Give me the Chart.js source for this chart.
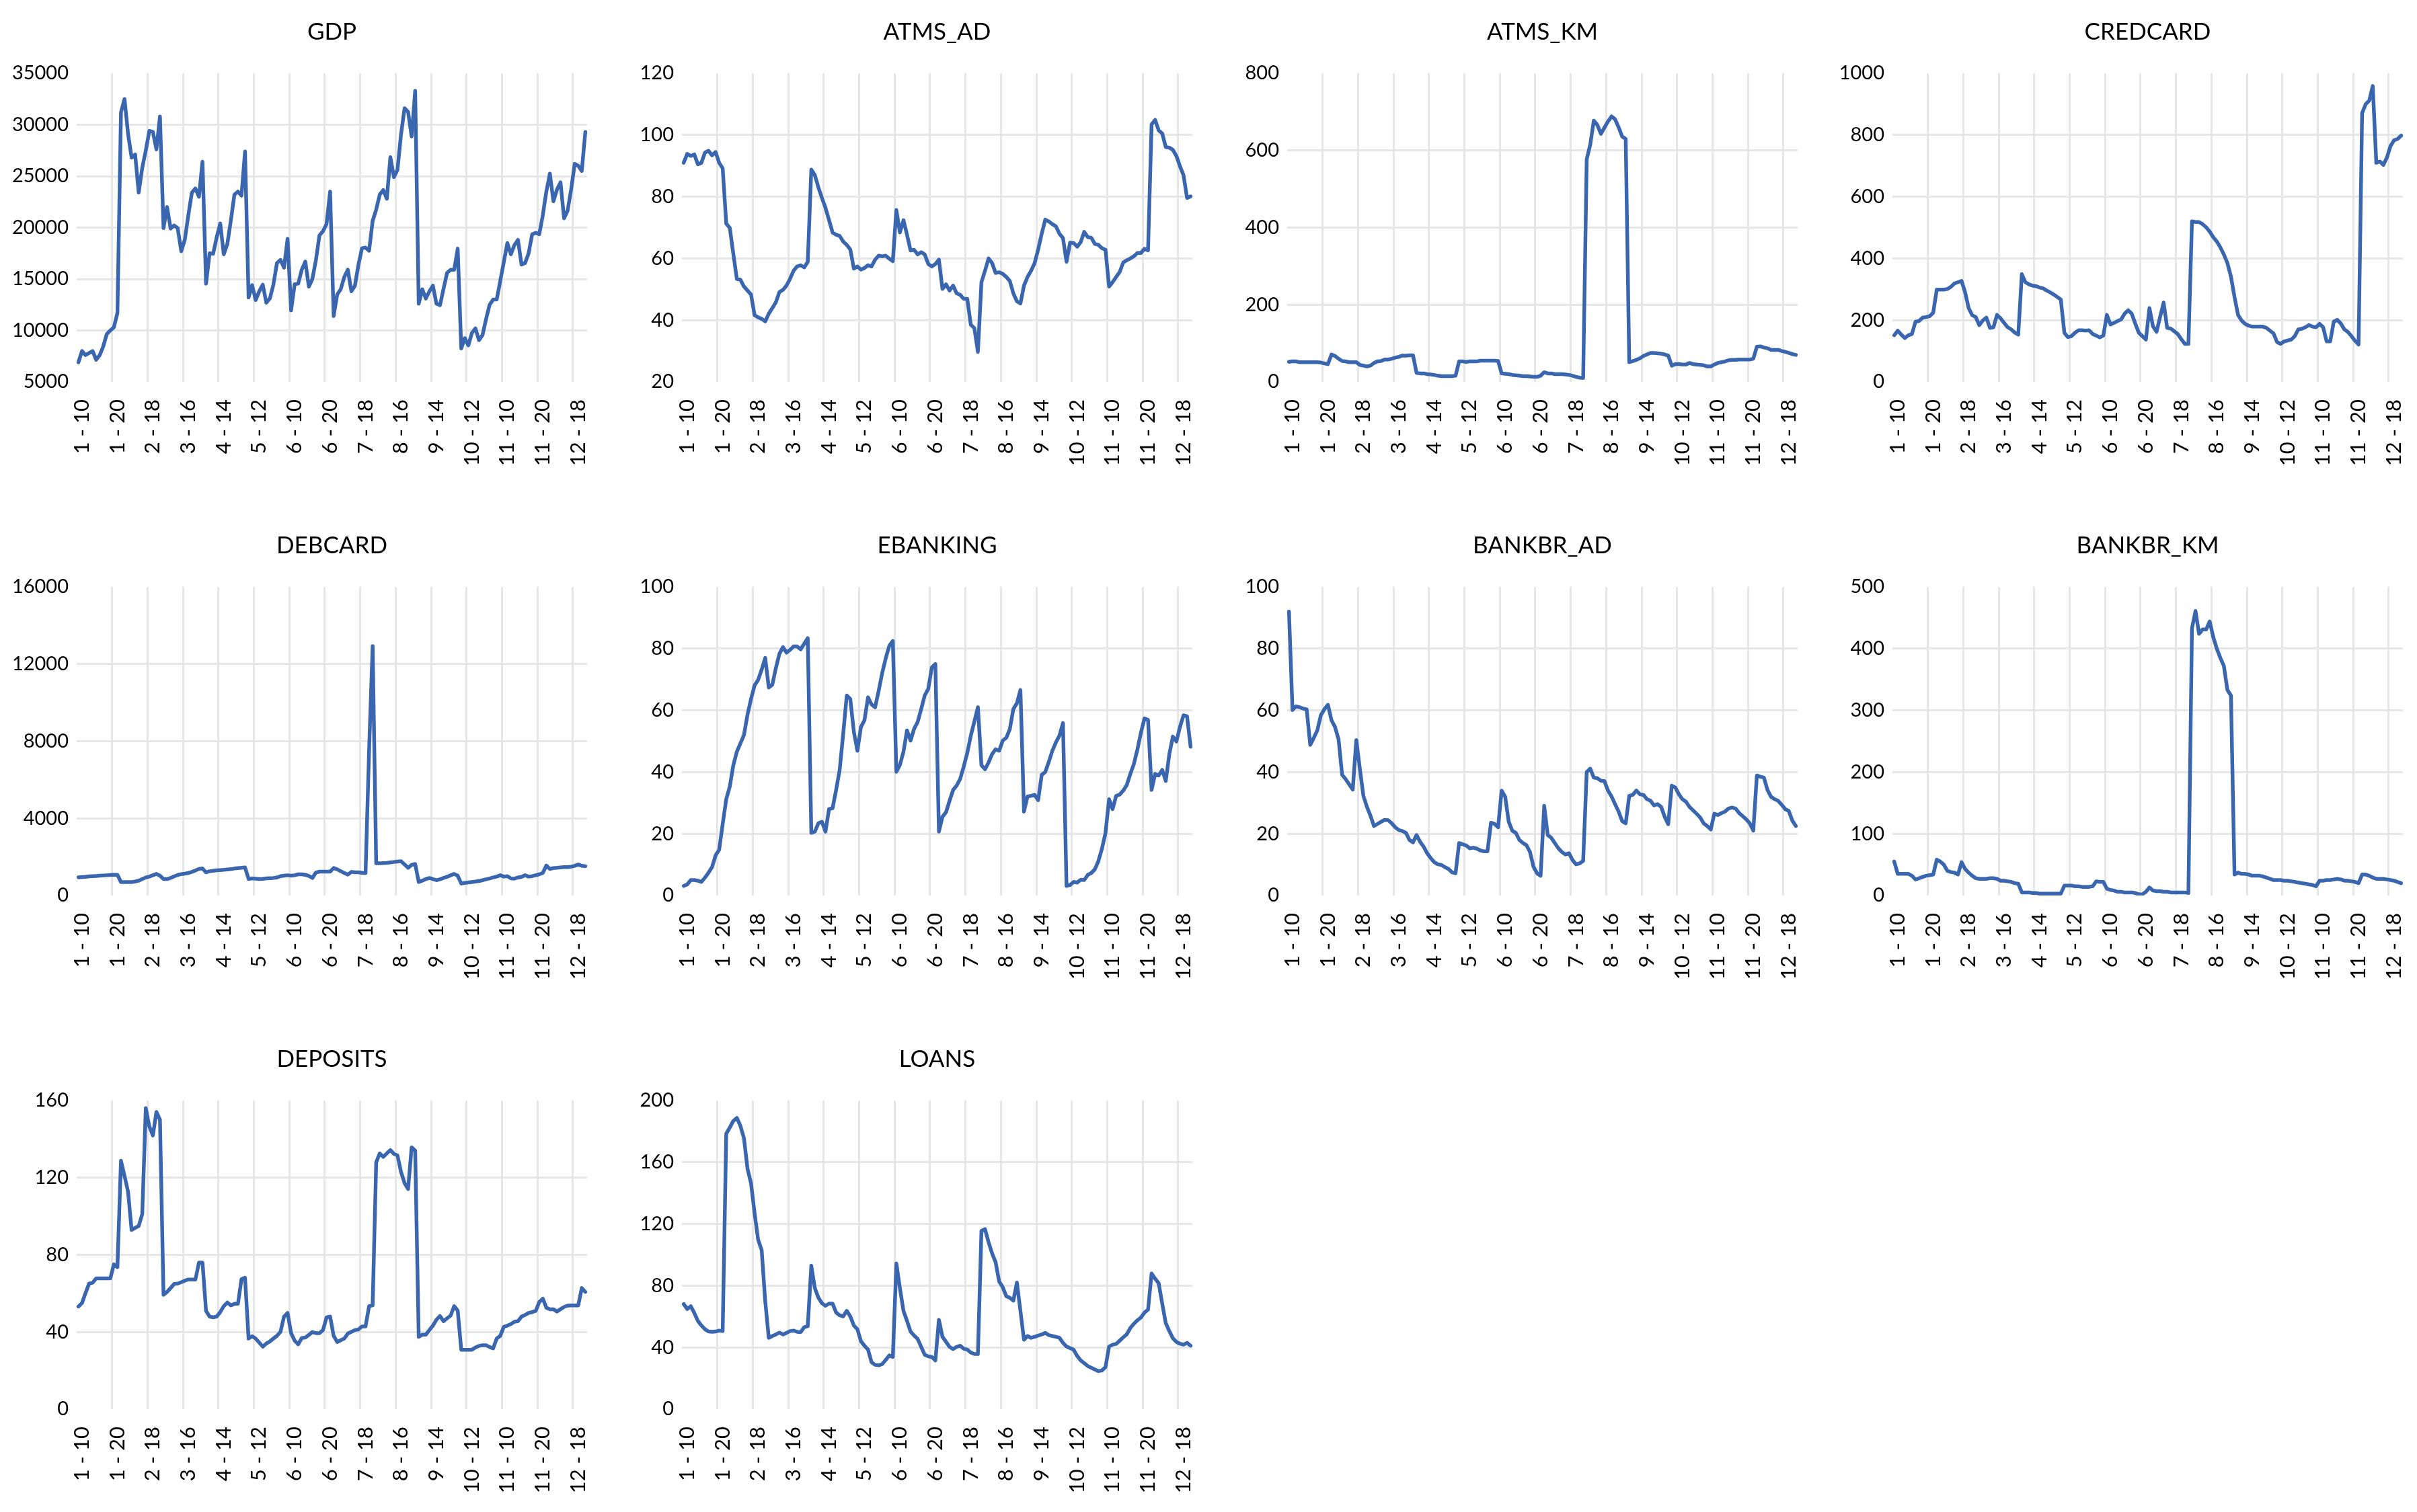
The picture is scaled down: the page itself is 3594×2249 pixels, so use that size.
<!DOCTYPE html>
<html><head><meta charset="utf-8">
<script src="https://cdn.jsdelivr.net/npm/chart.js@4.4.1/dist/chart.umd.min.js"></script>
<style>
html,body{margin:0;padding:0;background:#fff;overflow:hidden;width:3594px;height:2249px;}
.panel{position:absolute;width:900px;height:764px;}
</style></head><body>
<script>
const units = [1,2,3,4,5,6,7,8,9,10,11,12];
const periods = [9,10,11,12,13,14,15,16,17,18,19,20];
const categories = units.flatMap(u => periods.map(p => u + ' - ' + p));

const GDP = [6900,8000,7600,7800,8000,7150,7600,8450,9650,10000,10300,11700,
 31200,32500,29100,26800,27100,23400,25800,27500,29400,29300,27600,30800,
 19950,22000,19900,20200,19950,17700,18800,21200,23400,23800,23000,26400,
 14550,17500,17450,19050,20400,17400,18400,20700,23200,23500,23100,27400,
 13200,14400,12950,13800,14450,12700,13100,14450,16550,16850,16100,18900,
 11950,14500,14550,15900,16700,14250,15000,16850,19250,19650,20350,23500,
 11400,13500,14000,15200,15900,13800,14350,16400,18000,18050,17750,20650,
 21750,23200,23650,22800,26850,24900,25600,29050,31600,31250,28850,33300,
 12600,14000,13100,13800,14350,12600,12450,14050,15600,15900,15900,17950,
 8250,9250,8550,9750,10200,9050,9550,11100,12500,13000,13000,14800,
 16650,18500,17400,18300,18800,16400,16550,17500,19350,19500,19350,21200,
 23500,25250,22550,23700,24400,20900,21650,23700,26200,26000,25500,29300];

const ATMS_AD = [91,93.9,93.2,93.7,90.5,91,94.3,94.9,93.4,94.5,91,89.2,
 71.3,69.9,61.5,53.3,53.1,50.9,49.6,48.3,41.6,40.9,40.4,39.6,
 42.1,43.9,45.8,49.1,49.8,51.2,53.4,56,57.4,57.8,57.1,58.9,
 88.8,87,83,79.6,76.4,72.4,68.4,67.7,67.3,65.5,64.4,62.9,
 56.7,57.4,56.4,56.9,57.8,57.4,59.6,60.9,60.7,60.9,59.9,59.1,
 75.7,68.4,72.4,67.7,62.6,62.8,61.3,62,61.3,58.2,57.4,58.2,
 59.6,50.1,51.6,49.6,51.2,48.7,48.2,46.9,46.9,38.5,37.4,29.7,
 52.3,56,60,58.5,55.3,55.5,55,54,52.7,48.7,46.1,45.4,
 51.2,54,56,58.5,62.9,68,72.6,72,71.1,70.4,68,66.6,
 58.9,65.1,65,63.8,65.3,68.6,66.9,66.7,64.7,64.4,63.3,62.8,
 50.9,52.3,54,55.6,58.7,59.4,60,60.7,61.8,61.8,63.1,62.6,
 103.4,104.9,101.5,100.5,96.1,95.9,95.2,93.2,89.9,87,79.6,80.1];

const ATMS_KM = [52,53,53,51,51,51,51,51,51,50,48,46,
 71,67,60,54,53,51,51,51,44,42,40,42,
 49,53,54,58,58,60,63,65,68,68,69,69,
 23,22,22,20,19,18,16,15,15,15,15,16,
 53,53,52,53,53,53,55,55,55,55,55,54,
 22,21,20,18,17,16,15,15,14,13,13,16,
 25,22,22,20,20,20,19,18,16,13,11,10,
 577,615,677,666,643,659,675,688,681,660,636,630,
 51,54,57,61,67,71,75,75,74,73,71,68,
 42,46,46,45,45,49,46,45,44,43,40,40,
 45,49,51,53,56,57,57,58,58,58,58,60,
 91,92,89,87,83,83,83,80,78,75,72,70];

const CREDCARD = [151,166,153,142,151,155,195,197,208,210,213,224,
 299,299,299,301,308,319,323,327,290,239,216,210,
 184,199,208,175,177,217,206,191,177,170,160,153,
 349,323,316,312,310,306,303,296,290,283,275,267,
 159,145,148,159,167,167,166,167,155,150,144,150,
 217,186,191,197,202,221,232,221,189,159,148,137,
 239,180,162,210,257,175,173,164,155,138,123,123,
 520,518,518,511,501,487,469,455,436,413,385,341,
 275,217,199,188,182,179,179,179,179,175,166,157,
 129,123,131,134,137,148,170,172,177,184,179,177,
 188,177,131,131,195,201,189,170,162,148,133,121,
 871,900,911,959,710,714,703,727,764,783,787,798];

const DEBCARD = [945,957,969,992,1004,1015,1027,1039,1050,1062,1074,1074,
 700,700,700,700,724,770,852,934,980,1050,1120,1027,
 852,852,910,992,1062,1109,1132,1167,1225,1295,1377,1400,
 1202,1260,1284,1307,1319,1330,1354,1365,1400,1424,1435,1459,
 852,887,875,852,864,887,899,910,934,1004,1027,1050,
 1027,1050,1097,1097,1074,1015,910,1190,1237,1237,1237,1237,
 1424,1354,1260,1167,1085,1225,1202,1202,1179,1167,7560,12930,
 1669,1669,1680,1692,1715,1739,1762,1774,1610,1435,1587,1634,
 700,770,852,910,852,794,840,910,969,1050,1120,1027,
 619,654,677,700,724,747,794,840,887,934,980,1050,
 980,1004,887,875,934,969,1050,980,1004,1050,1097,1167,
 1552,1377,1424,1435,1459,1470,1470,1494,1540,1610,1540,1517];

const EBANKING = [3.1,3.6,5,5,4.8,4.4,5.8,7.4,9.2,13,14.8,23.2,
 31.2,35.3,42.2,46.6,49.3,52,58.6,63.7,68.1,69.9,73.2,77,
 67.4,68.3,73.7,78.3,80.5,78.7,79.6,80.7,80.7,79.8,81.6,83.4,
 20.3,20.7,23.4,23.9,20.7,28,28.3,34.2,40.7,52.4,64.8,63.7,
 53.1,46.9,54.6,56.8,64.2,61.9,61,66.3,72.1,76.9,80.9,82.5,
 40.1,42.3,46.6,53.5,50.2,54,56.2,60.4,64.8,67,73.9,75,
 20.7,25.5,27,30.7,34.2,35.6,37.8,41.8,46.2,51.8,56.4,61,
 42.2,40.9,43.1,45.8,47.4,46.9,50.2,51.1,53.9,60.4,62.3,66.6,
 27.2,32.1,32.3,32.6,30.9,39.1,40,43.3,46.9,49.6,51.8,55.9,
 3.1,3.4,4.4,4.2,5.1,5,6.7,7.3,8.5,11.2,15.2,20.3,
 31.2,28,32.3,32.7,34,35.8,39.4,42.6,47.3,52.8,57.4,56.9,
 34.2,39.4,38.9,40.7,37.1,45.8,51.5,49.9,54.6,58.4,58.1,48.2];

const BANKBR_AD = [92,60.1,61.3,61,60.6,60.3,48.8,51.1,53.5,58.4,60.4,61.8,
 56.8,54.6,50.6,39.1,37.7,36,34.3,50.4,41.1,32.3,28.7,25.8,
 22.5,23.2,23.9,24.5,24.4,23.4,22.1,21.2,20.9,20.3,18,17.2,
 19.6,17.4,15.8,13.7,12.1,10.8,10.1,9.9,9.2,8.6,7.5,7.2,
 17,16.6,16.2,15.3,15.5,15.2,14.6,14.3,14.3,23.6,23.2,22.1,
 34,32,23.9,21,20.3,18,17,16.3,14.1,9.3,7.2,6.4,
 29.1,19.6,18.7,17,15.3,14.1,13.3,13.7,11.5,10.1,10.4,11.2,
 40,41.1,38.2,38,37.2,37.1,34,32.1,29.6,27.2,24.1,23.4,
 32.3,32.6,34,32.8,32.6,31.2,30.7,29.2,29.6,28.7,25.5,23.1,
 35.6,35,32.8,31.2,30.4,28.7,27.6,26.5,25.3,23.4,22.5,21.4,
 26.5,26.1,26.7,27.2,28.2,28.5,28.2,26.7,25.7,24.7,23.4,21,
 38.9,38.5,38.2,34.2,32,31.2,30.7,29.4,28,27.4,24.3,22.5];

const BANKBR_KM = [55,35,35,35,35,32,26,28,30,32,33,34,
 58,55,50,40,38,37,34,54,43,37,32,28,
 27,27,27,28,28,27,24,24,23,22,20,19,
 5,5,5,4,4,3,3,3,3,3,3,3,
 16,16,16,15,15,14,14,14,15,23,22,22,
 11,9,8,6,6,5,5,5,4,2,2,6,
 13,8,7,7,6,6,5,5,5,5,5,4,
 433,461,424,431,431,444,419,400,385,372,333,324,
 34,37,35,35,34,32,32,32,31,29,27,25,
 25,25,24,24,23,22,21,20,19,18,17,15,
 24,24,25,25,26,27,26,24,24,23,22,20,
 34,34,32,29,27,27,27,26,25,24,22,20];

const DEPOSITS = [53.2,55,60.2,65.1,65.5,67.8,67.8,67.8,67.8,67.8,75.1,73.6,
 128.8,120.9,112.7,92.9,94,95,101.1,156.1,146.6,141.9,154.1,150.1,
 59.3,60.8,62.8,64.9,65.1,65.8,66.6,67.2,67.2,67.2,76,76,
 50.9,48,47.6,48,50.3,53.4,55.3,53.8,54.6,54.6,67.4,68.1,
 36.6,37.8,36.6,34.5,32.4,34,35.1,36.6,38,40.1,48,49.9,
 39.4,35.5,33.6,36.9,37.1,38.5,40,39.4,39.4,41,47.6,48,
 38,34.8,35.7,36.6,39.2,40.1,41,41.3,42.9,42.9,53.4,53.8,
 127.9,132.6,130.8,132.6,134.3,132.3,131.6,123,117.2,114.1,135.8,134,
 37.5,38.6,38.6,41,43.3,46.4,48.3,45.6,47.1,48.5,53.4,51.1,
 30.8,30.8,30.8,30.8,32,32.8,33.1,33.1,32.2,31.5,36.6,38,
 42.7,43.3,44.1,45.3,45.6,48,48.8,49.9,50.3,50.9,55.5,57.3,
 52.6,51.8,51.8,50.6,51.8,53,53.7,53.8,53.8,53.8,62.8,60.8];

const LOANS = [68.1,64.9,66.7,62.3,57.2,54.2,51.8,50.3,50.1,50.3,50.9,50.6,
 178.5,182.5,186.8,188.7,183.6,175.6,155.8,146.3,127,109.8,103,70,
 46.2,47.4,48.4,49.6,48.4,49.4,50.6,50.9,50.1,49.9,53.1,53.8,
 93,78.4,72.2,68.6,67,68.4,68.4,62.6,60.8,60.1,63.7,60.1,
 54.2,51.8,44,41.1,38.6,30.4,28.7,28.4,29.2,31.9,34.8,33.8,
 94.4,78.4,63.7,57.2,50.3,47.7,45.5,40.4,35.2,34.2,33.8,31.6,
 57.9,46.9,43.6,40.4,38.9,40.4,41.1,39.2,38.6,36.7,35.7,35.7,
 115.6,116.7,108.3,101,95.2,82.7,79.1,73.2,72.2,70.3,82,63.5,
 45,47.4,46.2,46.9,47.7,48.4,49.4,48,47.4,46.9,46.2,43,
 40.6,39.5,38.5,34.5,31.6,29.8,27.9,26.8,25.7,24.6,25.1,27.2,
 40.6,41.8,42.3,44.4,46.5,48.5,52.6,55.3,57.6,59.4,62.6,64.5,
 87.9,84.5,81.6,68.4,55.7,50.6,45.9,43.6,42.4,41.8,43,41.1];

const titles = ['GDP','ATMS_AD','ATMS_KM','CREDCARD','DEBCARD','EBANKING','BANKBR_AD','BANKBR_KM','DEPOSITS','LOANS'];
const seriesList = [GDP, ATMS_AD, ATMS_KM, CREDCARD, DEBCARD, EBANKING, BANKBR_AD, BANKBR_KM, DEPOSITS, LOANS];
const yMins  = [5000, 20, 0, 0, 0, 0, 0, 0, 0, 0];
const yMaxs  = [35000, 120, 800, 1000, 16000, 100, 100, 500, 160, 200];
const ySteps = [5000, 20, 200, 200, 4000, 20, 20, 100, 40, 40];

const FONT = 'Lato, "Liberation Sans", Arial, sans-serif';
const LINE = '#3A66AF';
const GRID = '#E6E6E6';
const NONE = 'rgba(0,0,0,0)';

titles.forEach((title, k) => {
  const col = k % 4, row = Math.floor(k / 4);
  const div = document.createElement('div');
  div.className = 'panel';
  div.style.left = (col * 900) + 'px';
  div.style.top = (row * 764) + 'px';
  const cv = document.createElement('canvas');
  cv.width = 900; cv.height = 764;
  cv.style.width = '900px'; cv.style.height = '764px';
  div.appendChild(cv);
  document.body.appendChild(div);
  new Chart(cv, {
    type: 'line',
    data: { labels: categories, datasets: [{ data: seriesList[k], borderColor: LINE, borderWidth: 5.5,
      pointRadius: 0, pointHoverRadius: 0, tension: 0, fill: false, borderJoinStyle: 'round', borderCapStyle: 'round' }] },
    options: {
      responsive: false, animation: false, devicePixelRatio: 1, events: [],
      layout: { padding: { left: 0, right: 27, top: 0, bottom: 0 } },
      plugins: {
        legend: { display: false }, tooltip: { enabled: false },
        title: { display: true, fullSize: false, text: title, color: '#000',
          font: { family: FONT, size: 35, weight: 'normal', lineHeight: 1.2 },
          padding: { top: 27, bottom: 40 } }
      },
      scales: {
        x: {
          type: 'category', offset: true,
          grid: { offset: true, drawTicks: false, lineWidth: 3,
            color: c => (c.type === 'tick' && c.index > 0 && c.index % 10 === 0) ? GRID : NONE },
          border: { display: false },
          ticks: { autoSkip: false, minRotation: 90, maxRotation: 90, padding: 26, color: '#000',
            font: { family: FONT, size: 31 },
            callback: (v, i) => (i % 10 === 1) ? categories[i] : '' },
          afterFit: s => { s.height = 196; s.paddingLeft = 0; s.paddingRight = 0; }
        },
        y: {
          min: yMins[k], max: yMaxs[k],
          grid: { drawTicks: false, lineWidth: 3,
            color: c => (c.type === 'tick' && c.index > 0 && c.index < c.scale.ticks.length - 1) ? GRID : NONE },
          border: { display: false },
          ticks: { stepSize: ySteps[k], padding: 12, color: '#000', font: { family: FONT, size: 29 },
            callback: v => String(v) },
          afterFit: s => { s.width = 114; }
        }
      }
    }
  });
});
</script>
</body></html>
